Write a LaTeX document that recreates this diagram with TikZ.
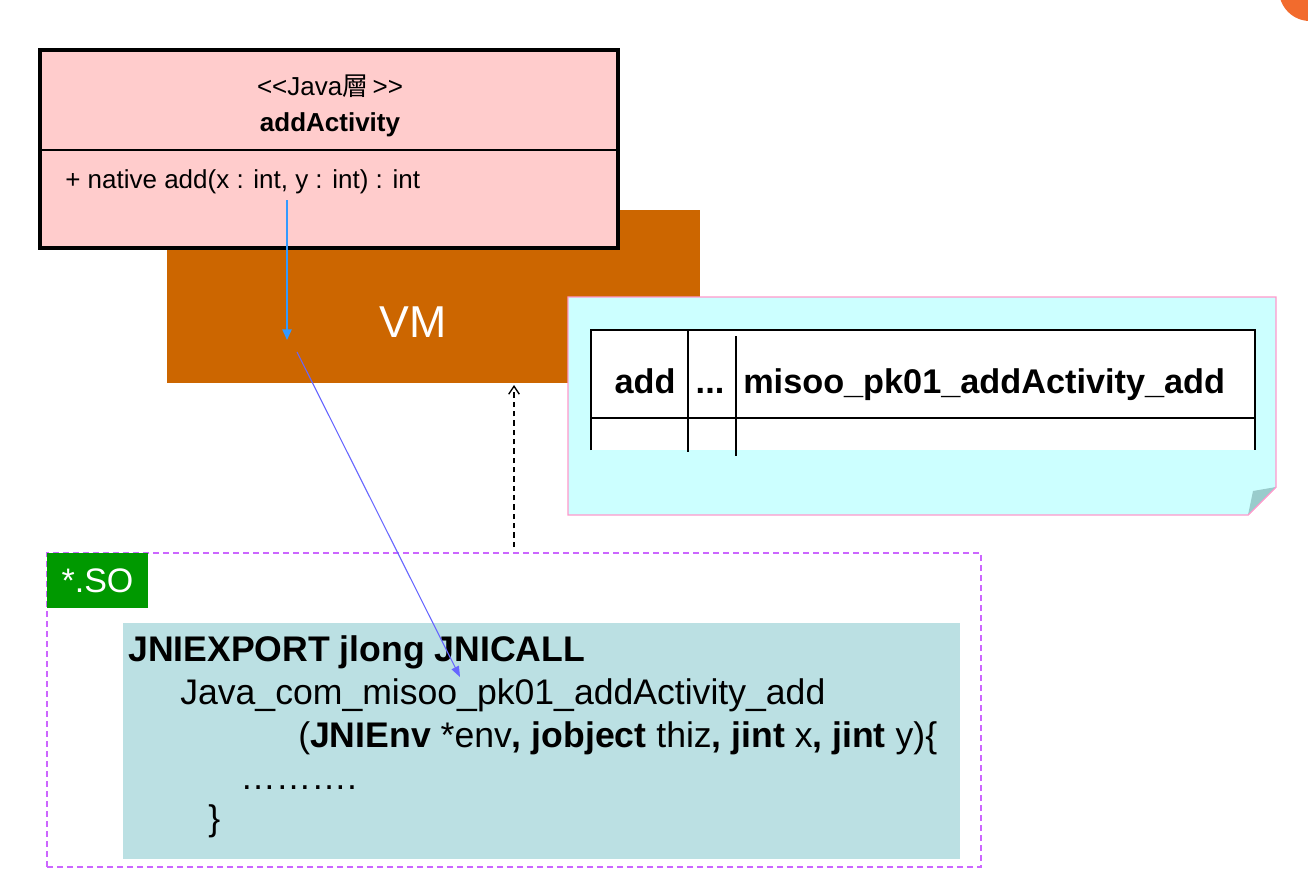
\documentclass[tikz,border=0pt]{standalone}
\usepackage{fontspec}
\setmainfont{Liberation Sans}
\newfontfamily\cjkfont{Noto Sans CJK TC}
\usetikzlibrary{arrows.meta,positioning}

\definecolor{umlpink}{HTML}{FFCCCC}
\definecolor{vmorange}{HTML}{CC6600}
\definecolor{notecyan}{HTML}{CCFFFF}
\definecolor{notepink}{HTML}{FF99CC}
\definecolor{notefold}{HTML}{99CCCC}
\definecolor{sopurple}{HTML}{CC66FF}
\definecolor{sogreen}{HTML}{009900}
\definecolor{codeblue}{HTML}{BBE0E3}
\definecolor{callblue}{HTML}{3399FF}
\definecolor{jniviolet}{HTML}{6666FF}
\definecolor{badgeorange}{HTML}{F26B2D}

\tikzset{
    pxbox/.style 2 args={rectangle,inner sep=0pt,outer sep=0pt,
        minimum width=#1*0.75pt,minimum height=#2*0.75pt},
    umltext/.style={inner sep=0pt,font=\fontsize{19.5}{22}\selectfont},
    celltext/.style={inner sep=0pt,anchor=base,font=\fontsize{25.7}{30}\selectfont\bfseries},
    codetext/.style={inner sep=0pt,anchor=base west,font=\fontsize{26.7}{31}\selectfont},
}

\begin{document}
\begin{tikzpicture}[x=0.75pt,y=-0.75pt]
    \useasboundingbox[fill=white] (0,0) rectangle (1308,894);

    % Corner badge (cut by the page edge)
    \begin{scope}
        \clip (0,0) rectangle (1308,894);
        \fill[badgeorange] (1310,-10) circle[radius=23.25pt];
    \end{scope}

    % VM block
    \node[pxbox={533}{173},fill=vmorange] (vm) at (433.5,296.5) {};
    \node[inner sep=0pt,text=white,font=\fontsize{33.5}{38}\selectfont] (vmlabel) at (413,322) {VM};

    % Java class
    \node[pxbox={578}{198},fill=umlpink,draw=black,line width=2.8pt] (uml) at (329,149) {};
    \draw[line width=1.6pt] (40,150) -- (618,150);
    \node[umltext] (stereo) at (330,86) {<{}<Java{\cjkfont 層}\,>{}>};
    \node[umltext,font=\fontsize{19.5}{22}\selectfont\bfseries] (classname) at (330,125) {addActivity};
    \node[umltext,anchor=west] (method) at (65,182) {+ native add(x : int, y : int) : int};

    % Method table note
    \draw[notepink,fill=notecyan,line width=0.8pt]
        (568,297) -- (1276,297) -- (1276,487) -- (1248,515) -- (568,515) -- cycle;
    \fill[notefold] (1276,487) -- (1248,515) -- (1253,491) -- cycle;
    \draw[notepink,line width=0.8pt] (1276,487) -- (1248,515);
    \node[pxbox={664}{120},fill=white] (table) at (923,390) {};
    \draw[line width=0.9pt] (table.south west) |- (table.north east) -- (table.south east);
    \draw[line width=0.9pt] (591,418) -- (1255,418);
    \draw[line width=0.9pt] (688,330) -- (688,452);
    \draw[line width=0.9pt] (736,336) -- (736,456);
    \node[celltext] (celladd) at (645,393) {add};
    \node[celltext] (celldots) at (710,393) {...};
    \node[celltext,anchor=base west] (cellname) at (743,393) {misoo\_pk01\_addActivity\_add};

    % Shared library
    \node[pxbox={934}{314},draw=sopurple,dash pattern=on 4.5pt off 3pt,line width=0.8pt] (so) at (514,710) {};
    \node[pxbox={101}{55},fill=sogreen,text=white,font=\fontsize{25.5}{30}\selectfont] (solabel) at (97.5,580.5) {*.SO};
    \node[pxbox={837}{236},fill=codeblue] (code) at (541.5,741) {};
    \node[codetext,font=\fontsize{26.7}{31}\selectfont\bfseries] (codea) at (128,661) {JNIEXPORT jlong JNICALL};
    \node[codetext] (codeb) at (180,704) {Java\_com\_misoo\_pk01\_addActivity\_add};
    \node[codetext] (codec) at (298,747) {(\textbf{JNIEnv} *env\textbf{,} \textbf{jobject} thiz\textbf{,} \textbf{jint} x\textbf{,} \textbf{jint} y)\{};
    \node[codetext] (coded) at (240,789) {……….};
    \node[codetext] (codee) at (208,830) {\}};

    % Call path
    \coordinate (callsrc) at (287,200);
    \coordinate (callvm) at (287,340);
    \coordinate (vmout) at (297,352);
    \coordinate (jnientry) at (460,677);
    \coordinate (soup) at (514,547);
    \coordinate (vmdown) at (514,385);
    \draw[callblue,line width=1pt,-{Triangle[length=8pt,width=7pt]}] (callsrc) -- (callvm);
    \draw[jniviolet,line width=0.8pt,-{Triangle[length=8pt,width=6pt]}] (vmout) -- (jnientry);
    \draw[line width=1pt,dash pattern=on 4pt off 3pt,-{Straight Barb[length=6pt,width=8pt]}] (soup) -- (vmdown);
\end{tikzpicture}
\end{document}
